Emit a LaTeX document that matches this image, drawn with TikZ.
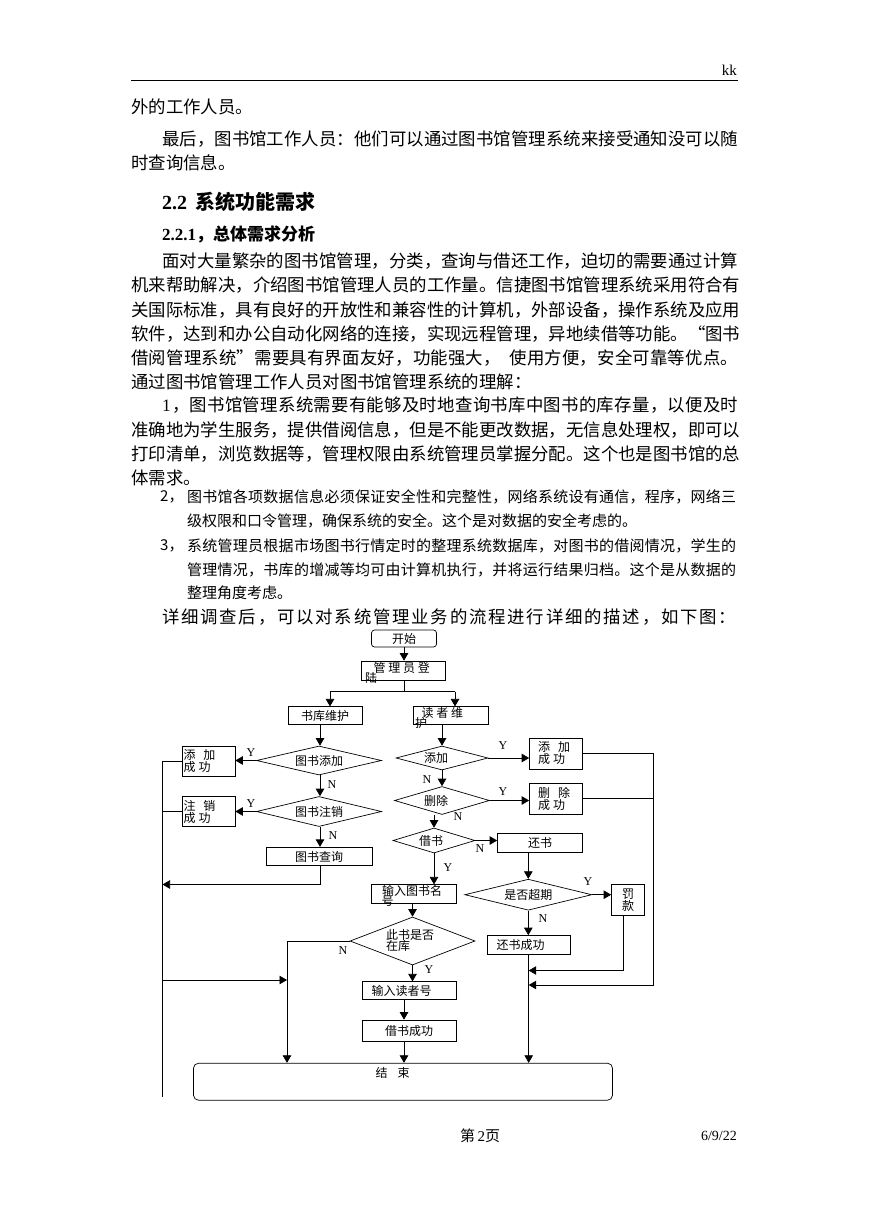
\documentclass[tikz,border=0pt]{standalone}
\usepackage{fontspec}
\setmainfont{Liberation Serif}
\newfontfamily\cjk{Noto Sans CJK SC}
\usetikzlibrary{shapes.geometric,arrows.meta}
\makeatletter
\def\spr@ad#1{\ifx#1\relax\else#1\hskip0pt plus 1fil\relax\expandafter\spr@ad\fi}
\newcommand\jl[2]{\hbox to #1{\spr@ad#2\relax\unskip}}
\makeatother
\newcommand\fc{\cjk\fontsize{12}{12}\selectfont}
\begin{document}
\begin{tikzpicture}[x=1pt,y=-1pt,
  bt/.style={anchor=west, inner sep=0pt, font=\cjk\fontsize{17.4}{20}\selectfont},
  itx/.style={anchor=west, inner sep=0pt, font=\cjk\fontsize{15}{18}\selectfont},
  fbox/.style={draw, line width=0.7pt, inner sep=0pt, font=\fc, align=center},
  fdia/.style={draw, diamond, aspect=4, line width=0.7pt, inner sep=0pt, font=\fc, align=center},
  ft/.style={anchor=west, inner sep=0pt, font=\fc},
  arr/.style={line width=0.7pt, -{Triangle[length=7.5pt,width=8.5pt]}},
  ln/.style={line width=0.7pt},
  yn/.style={inner sep=0pt, font=\fontsize{12}{12}\selectfont}]
\useasboundingbox[fill=white] (0,0) rectangle (869,1228);
% header
\node[anchor=east, inner sep=0pt, font=\fontsize{15}{15}\selectfont] (kk) at (737,70) {kk};
\draw[line width=1pt] (131,81) coordinate (hrA) -- (738,81) coordinate (hrB);
% body text
\node[bt] (l1) at (131,107) {外的工作人员。};
\node[bt] (l2) at (162,139) {\jl{576pt}{最后，图书馆工作人员：他们可以通过图书馆管理系统来接受通知没可以随}};
\node[bt] (l3) at (131,163) {时查询信息。};
\node[anchor=west, inner sep=0pt] (h1) at (162,202) {\fontsize{20}{22}\selectfont\bfseries 2.2\hspace{8pt}{\cjk 系统功能需求}};
\node[anchor=west, inner sep=0pt] (h2) at (162,234) {\fontsize{17}{19}\selectfont\bfseries 2.2.1{\cjk ，总体需求分析}};
\node[bt] (p1) at (162,261) {\jl{576pt}{面对大量繁杂的图书馆管理，分类，查询与借还工作，迫切的需要通过计算}};
\node[bt] (p2) at (131,285) {\jl{607pt}{机来帮助解决，介绍图书馆管理人员的工作量。信捷图书馆管理系统采用符合有}};
\node[bt] (p3) at (131,310) {\jl{607pt}{关国际标准，具有良好的开放性和兼容性的计算机，外部设备，操作系统及应用}};
\node[bt] (p4) at (131,334) {\jl{607pt}{软件，达到和办公自动化网络的连接，实现远程管理，异地续借等功能。“图书}};
\node[bt] (p5) at (131,358) {\jl{607pt}{借阅管理系统”需要具有界面友好，功能强大，\ \ 使用方便，安全可靠等优点。}};
\node[bt] (p6) at (131,382) {通过图书馆管理工作人员对图书馆管理系统的理解：};
\node[bt] (q1) at (162,405) {\hbox to 576pt{{\rmfamily 1}\hskip0pt plus 1fil\relax\jl{566pt}{，图书馆管理系统需要有能够及时地查询书库中图书的库存量，以便及时}}};
\node[bt] (q2) at (131,430) {\jl{607pt}{准确地为学生服务，提供借阅信息，但是不能更改数据，无信息处理权，即可以}};
\node[bt] (q3) at (131,454) {\jl{607pt}{打印清单，浏览数据等，管理权限由系统管理员掌握分配。这个也是图书馆的总}};
\node[bt] (q4) at (131,478) {体需求。};
\node[itx] (n2) at (160,497) {2，};
\node[itx] (r1) at (187,497) {\jl{549pt}{图书馆各项数据信息必须保证安全性和完整性，网络系统设有通信，程序，网络三}};
\node[itx] (r2) at (187,521) {级权限和口令管理，确保系统的安全。这个是对数据的安全考虑的。};
\node[itx] (n3) at (160,546) {3，};
\node[itx] (r3) at (187,546) {\jl{549pt}{系统管理员根据市场图书行情定时的整理系统数据库，对图书的借阅情况，学生的}};
\node[itx] (r4) at (187,570) {\jl{549pt}{管理情况，书库的增减等均可由计算机执行，并将运行结果归档。这个是从数据的}};
\node[itx] (r5) at (187,593) {整理角度考虑。};
\node[bt] (s1) at (162,617) {\jl{574pt}{详细调查后，可以对系统管理业务的流程进行详细的描述，如下图：}};
% footer
\node[inner sep=0pt, font=\fontsize{15}{15}\selectfont] (pg) at (480,1136) {{\cjk 第}\,2{\cjk 页}};
\node[anchor=east, inner sep=0pt, font=\fontsize{14}{14}\selectfont] (dt) at (737,1136) {6/9/22};

% ---------------- flowchart ----------------
\node[fbox, rounded corners=3pt, minimum width=65pt, minimum height=17pt] (start) at (404,638.5) {开始};
\node[fbox, minimum width=84pt, minimum height=19pt] (login) at (403,670.5) {};
\node[ft] (loginA) at (373.5,668) {管 理 员 登};
\node[ft] (loginB) at (365,678) {陆};
\node[fbox, minimum width=74pt, minimum height=17.5pt] (shuku) at (325,715.5) {书库维护};
\node[fbox, minimum width=75pt, minimum height=17.5pt] (duzhe) at (451,715.5) {};
\node[ft] (duzheA) at (421.5,712.5) {读 者 维};
\node[ft] (duzheB) at (415,723) {护};
\coordinate (split) at (404,691.5);
\coordinate (splitL) at (330,691.5);
\coordinate (splitR) at (455,691.5);

\node[fdia, minimum width=125pt, minimum height=29pt] (tsadd) at (319,760.5) {图书添加};
\node[fbox, minimum width=53pt, minimum height=30pt, text width=50pt, align=left] (addL) at (208.5,761) {添\hspace{8pt}加\\成\hspace{3pt}功};
\node[fdia, minimum width=125pt, minimum height=30pt] (tszx) at (319,811.5) {图书注销};
\node[fbox, minimum width=53pt, minimum height=30pt, text width=50pt, align=left] (zxL) at (208.5,811.5) {注\hspace{8pt}销\\成\hspace{3pt}功};
\node[fbox, minimum width=106pt, minimum height=18.5pt] (tscx) at (319,856.5) {图书查询};

\node[fdia, minimum width=92pt, minimum height=24pt] (radd) at (442,758) {添加\hspace{12pt}};
\node[fbox, minimum width=53pt, minimum height=31pt, text width=36pt, align=left] (raddok) at (556,753.5) {添\hspace{8pt}加\\成\hspace{3pt}功};
\node[fdia, minimum width=95pt, minimum height=28pt] (rdel) at (442,800.5) {删除\hspace{12pt}};
\node[fbox, minimum width=53pt, minimum height=31pt, text width=36pt, align=left] (rdelok) at (556,798.5) {删\hspace{8pt}除\\成\hspace{3pt}功};
\node[fdia, minimum width=82pt, minimum height=25pt] (borrow) at (434,840.5) {借书\hspace{6pt}};
\node[fbox, minimum width=85pt, minimum height=18.5pt] (ret) at (540,843) {还书};
\node[fbox, minimum width=85pt, minimum height=18.5pt] (inname) at (413.5,894) {};
\node[ft] (innameA) at (382,891) {输入图书名};
\node[ft] (innameB) at (381.5,901.5) {号};
\node[fdia, aspect=2.6, minimum width=125pt, minimum height=48pt] (instock) at (412.5,941) {};
\node[ft] (instockA) at (386,935) {此书是否};
\node[ft] (instockB) at (386,945.5) {在库};
\node[fbox, minimum width=94pt, minimum height=17.5pt, text width=75pt, align=left] (inreader) at (409,990.5) {输入读者号};
\node[fbox, minimum width=94pt, minimum height=21pt] (borrowok) at (409,1030.5) {借书成功};
\node[fdia, minimum width=127pt, minimum height=31pt] (overdue) at (528.3,894.7) {是否超期};
\node[fbox, minimum width=33pt, minimum height=31pt] (fine) at (628,900.3) {罚\\款};
\node[fbox, minimum width=83pt, minimum height=19pt, text width=64pt, align=left] (retok) at (528.7,945) {还书成功};
\node[fbox, rounded corners=5pt, minimum width=419pt, minimum height=37pt] (end) at (403,1081.7) {};
\node[ft] (endT) at (375.5,1073) {结\hspace{10pt}束};

% helper coordinates
\coordinate (lbBot) at (162.5,1097);
\coordinate (qy) at (162.5,884.5);
\coordinate (nline) at (287,980);
\coordinate (rbar) at (653.5,985);
\coordinate (fineL) at (623.5,970.5);
\coordinate (cx) at (404,1000);
\coordinate (lcx) at (320,800);

% connectors
\draw[arr] (start.south) -- (start.south |- login.north);
\draw[ln] (split |- login.south) -- (split);
\draw[ln] (splitL) -- (splitR);
\draw[arr] (splitL) -- (splitL |- shuku.north);
\draw[arr] (splitR) -- (splitR |- duzhe.north);
\draw[arr] (lcx |- shuku.south) -- (lcx |- tsadd.north);
\draw[arr] (tsadd.west) -- (tsadd.west -| addL.east);
\draw[arr] (lcx |- tsadd.south) -- (lcx |- tszx.north);
\draw[arr] (tszx.west) -- (tszx.west -| zxL.east);
\draw[arr] (lcx |- tszx.south) -- (lcx |- tscx.north);
\draw[ln] (addL.west) -- (addL.west -| lbBot) -- (lbBot);
\draw[ln] (zxL.west) -- (zxL.west -| lbBot);
\draw[arr] (lcx |- tscx.south) -- (lcx |- qy) -- (qy);
\draw[arr] (lbBot |- nline) -- (nline);
\draw[arr] (instock.west) -- (instock.west -| nline) -- (nline |- end.north);

\draw[arr] (radd.north |- duzhe.south) -- (radd.north);
\draw[arr] (radd.east) -- (radd.east -| raddok.west);
\draw[arr] (radd.south) -- (radd.south |- rdel.north);
\draw[arr] (rdel.east) -- (rdel.east -| rdelok.west);
\draw[arr] (borrow.north |- rdel.south) -- (borrow.north);
\draw[arr] (borrow.east) -- (borrow.east -| ret.west);
\draw[arr] (borrow.south) -- (borrow.south |- inname.north);
\draw[arr] (instock.north |- inname.south) -- (instock.north);
\draw[arr] (instock.south) -- (instock.south |- inreader.north);
\draw[arr] (cx |- inreader.south) -- (cx |- borrowok.north);
\draw[arr] (cx |- borrowok.south) -- (cx |- end.north);
\draw[ln] (raddok.east) -- (raddok.east -| rbar);
\draw[ln] (rdelok.east) -- (rdelok.east -| rbar);
\draw[arr] (raddok.east -| rbar) -- (rbar) -- (rbar -| retok.south);
\draw[arr] (ret.south -| overdue.north) -- (overdue.north);
\draw[arr] (overdue.east) -- (overdue.east -| fine.west);
\draw[arr] (overdue.south) -- (overdue.south |- retok.north);
\draw[arr] (fineL |- fine.south) -- (fineL) -- (fineL -| retok.south);
\draw[arr] (retok.south) -- (retok.south |- end.north);

% Y / N labels
\node[yn] (y1) at (251,753) {Y};
\node[yn] (y2) at (251,803.5) {Y};
\node[yn] (n1) at (332,785) {N};
\node[yn] (n2l) at (333,836) {N};
\node[yn] (y3) at (503,746) {Y};
\node[yn] (y4) at (503,792) {Y};
\node[yn] (n3l) at (427,780) {N};
\node[yn] (n4) at (458,817) {N};
\node[yn] (n5) at (480,848.5) {N};
\node[yn] (y5) at (448,868) {Y};
\node[yn] (y6) at (429,970) {Y};
\node[yn] (n6) at (343,951) {N};
\node[yn] (y7) at (588,882) {Y};
\node[yn] (n7) at (543,919) {N};
\end{tikzpicture}
\end{document}
